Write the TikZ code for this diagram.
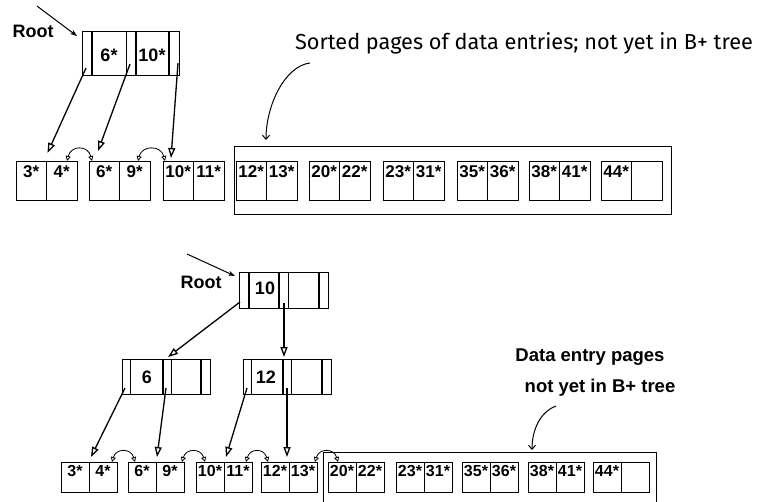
\documentclass[tikz,border=0pt]{standalone}
\usepackage{fontspec}
\setmainfont{Liberation Sans}
\newfontfamily\capfont{Fira Sans}
\usetikzlibrary{arrows.meta}
\newcommand\pg[6]{\node[#1] (#21) at (#3,#4) {#5}; \node[#1] (#22) at (#21.north east) {#6};}
\begin{document}
\begin{tikzpicture}[x=1pt,y=-1pt,
  cellT/.style={draw, line width=0.9pt, inner sep=0pt, outer sep=0pt, anchor=north west,
    minimum width=30.5pt, minimum height=39pt, text height=12pt, text depth=17.4pt,
    font=\fontsize{17}{19}\selectfont\bfseries},
  cellB/.style={draw, line width=0.9pt, inner sep=0pt, outer sep=0pt, anchor=north west,
    minimum width=28pt, minimum height=30pt, text height=11pt, text depth=12.6pt,
    font=\fontsize{16}{18}\selectfont\bfseries},
  inode/.style={draw, line width=0.9pt, inner sep=0pt, outer sep=0pt, anchor=north west},
  thin/.style={line width=0.9pt},
  thk/.style={line width=1.7pt},
  key/.style={inner sep=0pt, font=\fontsize{18}{20}\selectfont\bfseries},
  lbl/.style={inner sep=0pt, font=\fontsize{18}{21}\selectfont\bfseries},
  dlbl/.style={inner sep=0pt, font=\fontsize{18.5}{21}\selectfont\bfseries},
  ptr/.style={line width=1.3pt, -{Triangle[open, length=10pt, width=7pt]}},
  sib/.style={line width=0.8pt, {Triangle[open, length=5pt, width=5pt]}-{Triangle[open, length=5pt, width=5pt]}},
  call/.style={line width=1pt, -{Straight Barb[length=4pt, width=7pt]}},
  rootarr/.style={line width=1pt, -{Stealth[length=7pt, width=5pt]}}
]
\useasboundingbox (0,0) rectangle (758,501);

% ---------------- top diagram ----------------
\node[lbl] (root1) at (33,31) {Root};
\node[inode, minimum width=97pt, minimum height=44pt] (r1) at (82,31) {};
\draw[thk] ([xshift=10pt]r1.north west) -- ([xshift=10pt]r1.south west);
\draw[thin] ([xshift=44pt]r1.north west) -- ([xshift=44pt]r1.south west);
\draw[thk] ([xshift=54pt]r1.north west) -- ([xshift=54pt]r1.south west);
\draw[thk] ([xshift=87pt]r1.north west) -- ([xshift=87pt]r1.south west);
\node[key] (k6) at (109,55) {6*};
\node[key] (k10) at (152,55) {10*};
\coordinate (rs1) at (37,6);
\draw[rootarr] (rs1) -- ([xshift=-5pt,yshift=-5pt]r1.north west);

\pg{cellT}{ta}{16}{161}{3*}{4*}
\pg{cellT}{tb}{89}{161}{6*}{9*}
\pg{cellT}{tc}{163}{161}{10*}{11*}

\node[inode, minimum width=437pt, minimum height=68pt] (dbox) at (234,146) {};
\pg{cellT}{da}{236}{161}{12*}{13*}
\pg{cellT}{db}{309}{161}{20*}{22*}
\pg{cellT}{dc}{383}{161}{23*}{31*}
\pg{cellT}{dd}{457}{161}{35*}{36*}
\pg{cellT}{de}{529}{161}{38*}{41*}
\pg{cellT}{df}{601}{161}{44*}{}

\coordinate (p1) at (86,68);
\coordinate (p2) at (130,64);
\coordinate (p3) at (178,63);
\draw[ptr] (p1) -- ([xshift=1pt,yshift=8pt]ta1.north east);
\draw[ptr] (p2) -- ([xshift=9pt,yshift=10pt]tb1.north west);
\draw[ptr] (p3) -- ([xshift=8pt,yshift=3pt]tc1.north west);

\draw[sib] ([xshift=-10pt]ta2.north east) .. controls +(4,-16) and +(-4,-16) .. ([xshift=3pt]tb1.north west);
\draw[sib] ([xshift=-12pt]tb2.north east) .. controls +(4,-16) and +(-4,-16) .. ([xshift=2pt]tc1.north west);

\node[inner sep=0pt, font=\capfont\fontsize{21.7}{24}\selectfont] (st) at (524,43) {Sorted pages of data entries; not yet in B+ tree};
\coordinate (c1) at (310,63);
\draw[call] (c1) .. controls (285,66) and (266,105) .. ([xshift=32pt,yshift=6pt]dbox.north west);

% ---------------- bottom diagram ----------------
\node[lbl] (root2) at (201,282) {Root};
\node[inode, minimum width=89pt, minimum height=36pt] (r2) at (239,272) {};
\draw[thk] ([xshift=10pt]r2.north west) -- ([xshift=10pt]r2.south west);
\draw[thk] ([xshift=40pt]r2.north west) -- ([xshift=40pt]r2.south west);
\draw[thin] ([xshift=49pt]r2.north west) -- ([xshift=49pt]r2.south west);
\draw[thk] ([xshift=80pt]r2.north west) -- ([xshift=80pt]r2.south west);
\node[key] (k10b) at (265,288) {10};
\coordinate (rs2) at (187,254);
\draw[rootarr] (rs2) -- ([xshift=-4pt,yshift=-4pt]r2.north west);

\node[inode, minimum width=88pt, minimum height=35pt] (n6) at (122,359) {};
\draw[thin] ([xshift=8pt]n6.north west) -- ([xshift=8pt]n6.south west);
\draw[thk] ([xshift=41pt]n6.north west) -- ([xshift=41pt]n6.south west);
\draw[thin] ([xshift=49pt]n6.north west) -- ([xshift=49pt]n6.south west);
\draw[thk] ([xshift=79pt]n6.north west) -- ([xshift=79pt]n6.south west);
\node[key] (k6b) at (147,377) {6};

\node[inode, minimum width=88pt, minimum height=35pt] (n12) at (243,359) {};
\draw[thin] ([xshift=8pt]n12.north west) -- ([xshift=8pt]n12.south west);
\draw[thk] ([xshift=40pt]n12.north west) -- ([xshift=40pt]n12.south west);
\draw[thin] ([xshift=48pt]n12.north west) -- ([xshift=48pt]n12.south west);
\draw[thk] ([xshift=79pt]n12.north west) -- ([xshift=79pt]n12.south west);
\node[key] (k12b) at (266,377) {12};

\coordinate (q1) at (240,302);
\coordinate (q2) at (284,303);
\draw[ptr] (q1) -- ([xshift=46pt,yshift=2pt]n6.north west);
\draw[ptr] (q2) -- ([xshift=41pt,yshift=2pt]n12.north west);

\pg{cellB}{ba}{61}{462}{3*}{4*}
\pg{cellB}{bb}{128}{462}{6*}{9*}
\pg{cellB}{bc}{196}{462}{10*}{11*}
\pg{cellB}{bd}{261}{462}{12*}{13*}
\pg{cellB}{be}{328}{462}{20*}{22*}
\pg{cellB}{bf}{396}{462}{23*}{31*}
\pg{cellB}{bg}{462}{462}{35*}{36*}
\pg{cellB}{bh}{528}{462}{38*}{41*}
\pg{cellB}{bi}{593}{462}{44*}{}

\coordinate (s1) at (125,388);
\coordinate (s2) at (166,388);
\coordinate (s3) at (247,388);
\coordinate (s4) at (287,388);
\draw[ptr] (s1) -- ([xshift=2pt,yshift=5pt]ba2.north west);
\draw[ptr] (s2) -- ([xshift=1pt,yshift=5pt]bb2.north west);
\draw[ptr] (s3) -- ([xshift=2pt,yshift=5pt]bc2.north west);
\draw[ptr] (s4) -- ([xshift=-2pt,yshift=5pt]bd2.north west);

\draw[sib] ([xshift=-5pt]ba2.north east) .. controls +(4,-14) and +(-4,-14) .. ([xshift=7pt]bb1.north west);
\draw[sib] ([xshift=-2pt]bb2.north east) .. controls +(4,-14) and +(-4,-14) .. ([xshift=9pt]bc1.north west);
\draw[sib] ([xshift=-6pt]bc2.north east) .. controls +(4,-14) and +(-4,-14) .. ([xshift=7pt]bd1.north west);
\draw[sib] ([xshift=-2pt]bd2.north east) .. controls +(4,-14) and +(-4,-14) .. ([xshift=10pt]be1.north west);

\coordinate (bx1) at (323,502);
\coordinate (bx2) at (323,452);
\coordinate (bx3) at (656,452);
\coordinate (bx4) at (656,502);
\draw[line width=0.9pt] (bx1) -- (bx2) -- (bx3) -- (bx4);

\node[dlbl] (dl1) at (590,357) {Data entry pages};
\node[dlbl] (dl2) at (600,388) {not yet in B+ tree};
\coordinate (c2) at (556,406);
\draw[call] (c2) .. controls (540,412) and (532,430) .. ([xshift=209pt,yshift=2pt]bx2);
\end{tikzpicture}
\end{document}
